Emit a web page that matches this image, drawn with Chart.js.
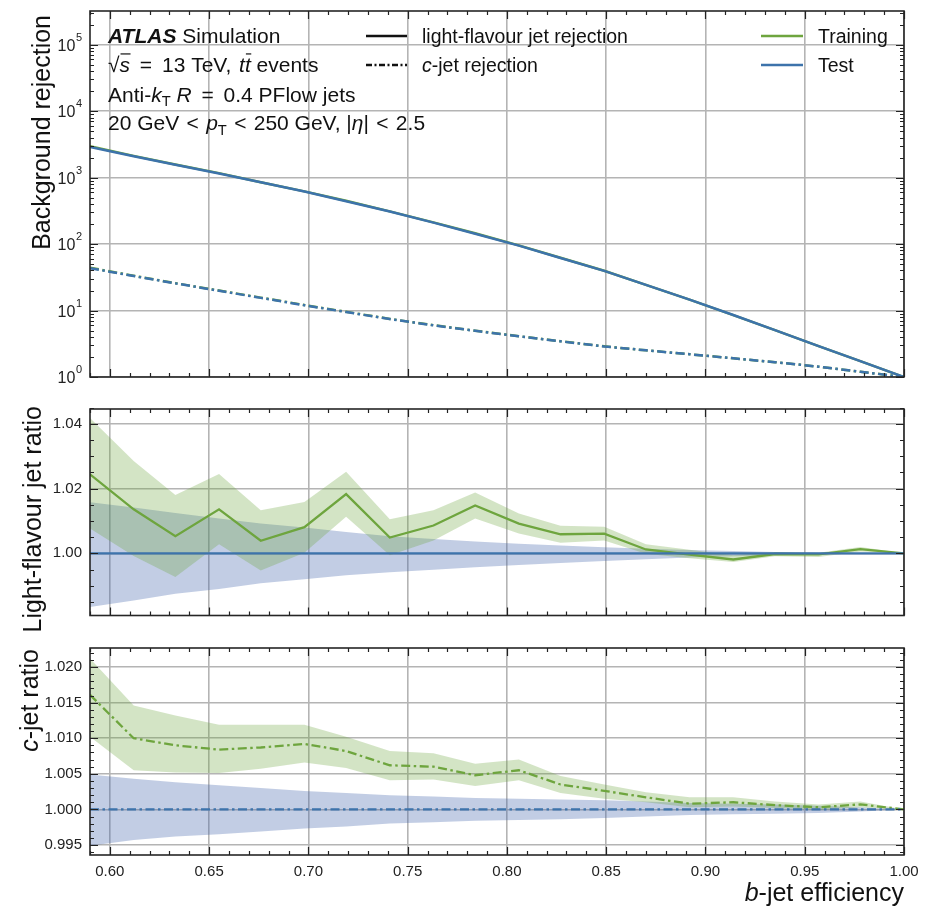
<!DOCTYPE html>
<html>
<head>
<meta charset="utf-8">
<script src="https://cdn.jsdelivr.net/npm/chart.js@4.4.0/dist/chart.umd.min.js"></script>
<style>
  html, body { margin: 0; padding: 0; background: #fff; }
  #wrap { position: relative; width: 933px; height: 908px; overflow: hidden; }
  canvas { position: absolute; left: 0; }
</style>
</head>
<body>
<div id="wrap">
  <canvas id="rejChart" width="933" height="395" style="top:0px"></canvas>
  <canvas id="lightChart" width="933" height="245" style="top:395px"></canvas>
  <canvas id="cChart" width="933" height="278" style="top:630px"></canvas>
</div>
<script>
// b-jet efficiency working points
const effX = [0.590, 0.612, 0.633, 0.655, 0.676, 0.698, 0.719, 0.741, 0.763, 0.784,
              0.806, 0.827, 0.849, 0.870, 0.892, 0.914, 0.935, 0.957, 0.978, 1.000];

// top panel: background rejection
const lightRejTrain = [2950, 2120, 1570, 1165, 850, 620, 448, 310, 212, 145,
                       95.5, 62.1, 39.6, 24.3, 14.6, 8.53, 5.07, 2.92, 1.73, 1.0];
const lightRejTest  = [2880, 2090, 1560, 1150, 847, 615, 440, 308, 210, 143,
                       94.6, 61.7, 39.4, 24.3, 14.6, 8.55, 5.07, 2.92, 1.73, 1.0];
const cRejTrain = [44.1, 33.3, 25.8, 19.97, 15.63, 12.11, 9.56, 7.48, 6.02, 4.97,
                   4.11, 3.45, 2.89, 2.52, 2.20, 1.91, 1.67, 1.43, 1.20, 1.0];
const cRejTest  = [43.4, 33.0, 25.6, 19.8, 15.5, 12.0, 9.48, 7.43, 5.98, 4.95,
                   4.09, 3.44, 2.88, 2.52, 2.20, 1.91, 1.67, 1.43, 1.20, 1.0];

// middle panel: light-flavour ratio
const lightRatioTrain = [1.0244, 1.0136, 1.0053, 1.0136, 1.0039, 1.0081, 1.0183, 1.0049, 1.0086, 1.0148,
                         1.0092, 1.0059, 1.0061, 1.0012, 0.9996, 0.9981, 0.9998, 0.9997, 1.0013, 1.0000];
const lightTrainUp  = [1.0418, 1.0285, 1.0180, 1.0245, 1.0133, 1.0159, 1.0252, 1.0105, 1.0133, 1.0188,
                       1.0123, 1.0085, 1.0082, 1.0028, 1.0011, 0.9994, 1.0004, 1.0002, 1.0020, 1.0000];
const lightTrainLow = [1.0077, 0.9992, 0.9927, 1.0028, 0.9947, 1.0002, 1.0113, 0.9994, 1.0040, 1.0108,
                       1.0061, 1.0033, 1.0040, 0.9999, 0.9985, 0.9973, 0.9991, 0.9989, 1.0006, 1.0000];
const lightRatioTest = [1, 1, 1, 1, 1, 1, 1, 1, 1, 1, 1, 1, 1, 1, 1, 1, 1, 1, 1, 1];
const lightTestUp  = [1.0158, 1.0142, 1.0125, 1.0108, 1.0092, 1.0080, 1.0066, 1.0053, 1.0044, 1.0037,
                      1.0030, 1.0024, 1.0019, 1.0014, 1.0010, 1.0007, 1.0004, 1.0002, 1.0001, 1.0000];
const lightTestLow = [0.9834, 0.9854, 0.9875, 0.9890, 0.9908, 0.9920, 0.9932, 0.9942, 0.9949, 0.9957,
                      0.9964, 0.9970, 0.9976, 0.9982, 0.9987, 0.9991, 0.9994, 0.9997, 0.9999, 1.0000];

// bottom panel: c-jet ratio
const cRatioTrain = [1.0161, 1.0100, 1.0090, 1.0084, 1.0087, 1.0092, 1.0082, 1.0062, 1.0060, 1.0048,
                     1.0055, 1.0035, 1.0026, 1.0017, 1.0008, 1.0010, 1.0006, 1.0003, 1.0007, 1.0000];
const cTrainUp  = [1.0212, 1.0146, 1.0132, 1.0119, 1.0119, 1.0119, 1.0102, 1.0082, 1.0079, 1.0064,
                   1.0070, 1.0047, 1.0035, 1.0024, 1.0017, 1.0017, 1.0011, 1.0007, 1.0011, 1.0000];
const cTrainLow = [1.0102, 1.0055, 1.0052, 1.0051, 1.0057, 1.0066, 1.0058, 1.0041, 1.0042, 1.0033,
                   1.0041, 1.0023, 1.0015, 1.0010, 1.0003, 1.0004, 1.0002, 0.9999, 1.0003, 1.0000];
const cRatioTest = [1, 1, 1, 1, 1, 1, 1, 1, 1, 1, 1, 1, 1, 1, 1, 1, 1, 1, 1, 1];
const cTestUp  = [1.0049, 1.0043, 1.0038, 1.0034, 1.0030, 1.0026, 1.0023, 1.0020, 1.0018, 1.0016,
                  1.0015, 1.0014, 1.0013, 1.0011, 1.0009, 1.0008, 1.0007, 1.0005, 1.0003, 1.0000];
const cTestLow = [0.9949, 0.9957, 0.9962, 0.9965, 0.9969, 0.9973, 0.9976, 0.9980, 0.9982, 0.9984,
                  0.9985, 0.9986, 0.9988, 0.9990, 0.9992, 0.9993, 0.9994, 0.9995, 0.9997, 1.0000];

// tick labels
const xTicks = [0.60, 0.65, 0.70, 0.75, 0.80, 0.85, 0.90, 0.95, 1.00];
const rejTicks = [1, 10, 100, 1000, 10000, 100000];
const lightTicks = [1.00, 1.02, 1.04];
const cTicks = [0.995, 1.000, 1.005, 1.010, 1.015, 1.020];

const fam = '"Liberation Sans", Arial, Helvetica, sans-serif';
const green = '#6ea53e';
const blue = '#3d73ab';
const greenBand = 'rgba(110,165,62,0.30)';
const blueBand = 'rgba(70,102,172,0.33)';
const gridColor = '#b4b4b4';
const dashDot = [9, 3.5, 2.5, 3.5];

const pts = (arr) => effX.map((x, i) => ({ x: x, y: arr[i] }));

// minor tick positions
const xMinor = [];
for (let i = 59; i <= 100; i++) xMinor.push(i / 100);
const rejMinor = [];
for (let d = 0; d <= 5; d++) for (let m = 2; m <= 9; m++) rejMinor.push(m * Math.pow(10, d));
const lightMinor = [];
for (let i = 197; i <= 209; i++) lightMinor.push(i / 200);
const cMinor = [];
for (let i = 994; i <= 1022; i++) cMinor.push(i / 1000);

// mixed-style text: segments {t, st, sub, over} or {gap}
function drawRich(ctx, x, y, segs, size, align) {
  const fontOf = (s) => (s.st || '') + ' ' + (s.sub ? size * 0.7 : size) + 'px ' + fam;
  const widthOf = (s) => {
    if (s.gap) return s.gap;
    ctx.font = fontOf(s);
    return ctx.measureText(s.t).width;
  };
  let w = 0;
  segs.forEach(s => { w += widthOf(s); });
  let cx = align === 'right' ? x - w : x;
  ctx.textAlign = 'left';
  ctx.textBaseline = 'alphabetic';
  segs.forEach(s => {
    const tw = widthOf(s);
    if (!s.gap) {
      ctx.font = fontOf(s);
      ctx.fillText(s.t, cx, y + (s.sub ? size * 0.22 : 0));
    }
    if (s.over) {
      ctx.save();
      ctx.lineWidth = 1.2;
      ctx.strokeStyle = ctx.fillStyle;
      ctx.beginPath();
      ctx.moveTo(cx + 1, y - size * 0.86);
      ctx.lineTo(cx + tw + 0.5, y - size * 0.86);
      ctx.stroke();
      ctx.restore();
    }
    cx += tw;
  });
}

function drawYTitle(ctx, bx, topY, segs) {
  ctx.save();
  ctx.fillStyle = '#111';
  ctx.translate(bx, topY);
  ctx.rotate(-Math.PI / 2);
  drawRich(ctx, 0, 0, segs, 25, 'right');
  ctx.restore();
}

// frame + inward ticks on all four sides, then extra text
function makeFrame(yMajor, yMinor, extra) {
  return {
    id: 'frame',
    afterDraw(chart) {
      const { ctx, chartArea: a, scales } = chart;
      const x = scales.x, y = scales.y;
      ctx.save();
      ctx.strokeStyle = '#222';
      ctx.lineWidth = 1.2;
      ctx.beginPath();
      const xt = (v, len) => {
        const p = Math.round(x.getPixelForValue(v)) + 0.5;
        ctx.moveTo(p, a.top); ctx.lineTo(p, a.top + len);
        ctx.moveTo(p, a.bottom); ctx.lineTo(p, a.bottom - len);
      };
      const yt = (v, len) => {
        const p = Math.round(y.getPixelForValue(v)) + 0.5;
        if (p < a.top - 0.5 || p > a.bottom + 0.5) return;
        ctx.moveTo(a.left, p); ctx.lineTo(a.left + len, p);
        ctx.moveTo(a.right, p); ctx.lineTo(a.right - len, p);
      };
      xMinor.forEach(v => xt(v, 4));
      xTicks.forEach(v => xt(v, 8));
      yMinor.forEach(v => yt(v, 4));
      yMajor.forEach(v => yt(v, 8));
      ctx.stroke();
      ctx.lineWidth = 1.6;
      ctx.strokeStyle = '#262626';
      ctx.strokeRect(a.left, a.top, a.right - a.left, a.bottom - a.top);
      ctx.restore();
      if (extra) extra(ctx, a, chart);
    }
  };
}

function baseOptions(cfg) {
  return {
    responsive: false,
    animation: false,
    devicePixelRatio: 1,
    events: [],
    layout: { padding: { top: cfg.padTop, bottom: cfg.padBottom, left: 0, right: 29 } },
    plugins: { legend: { display: false }, tooltip: { enabled: false } },
    elements: { point: { radius: 0 }, line: { tension: 0 } },
    scales: {
      x: {
        type: 'linear', min: 0.59, max: 1.0,
        afterBuildTicks: s => { s.ticks = xTicks.map(v => ({ value: v })); },
        afterFit: s => { s.height = cfg.xHeight; s.paddingLeft = 0; s.paddingRight = 0; },
        grid: { color: gridColor, lineWidth: 1.6, drawTicks: false },
        border: { display: false },
        ticks: {
          display: cfg.xLabels, padding: 8, autoSkip: false, maxRotation: 0,
          color: '#222', font: { family: fam, size: 15 },
          callback: v => v.toFixed(2)
        }
      },
      y: Object.assign({
        afterFit: s => { s.width = 90; s.paddingTop = 0; s.paddingBottom = 0; },
        grid: { color: gridColor, lineWidth: 1.6, drawTicks: false },
        border: { display: false },
      }, cfg.y)
    }
  };
}

const lineDs = (data, color, width, dash, order) => ({
  data: pts(data), borderColor: color, borderWidth: width, borderDash: dash || [],
  fill: false, pointRadius: 0, order: order
});
const bandDs = (data, color, target, order) => ({
  data: pts(data), borderWidth: 0, borderColor: 'rgba(0,0,0,0)', backgroundColor: color,
  fill: target === null ? false : { target: target }, pointRadius: 0, order: order
});

// ---- top panel ----
new Chart(document.getElementById('rejChart'), {
  type: 'line',
  data: {
    datasets: [
      lineDs(lightRejTrain, green, 2.5, [], 3),
      lineDs(lightRejTest, blue, 2.5, [], 1),
      lineDs(cRejTrain, green, 2.5, dashDot, 2),
      lineDs(cRejTest, blue, 2.5, dashDot, 0)
    ]
  },
  options: baseOptions({
    padTop: 11, padBottom: 18, xHeight: 0, xLabels: false,
    y: {
      type: 'logarithmic', min: 1, max: 320000,
      afterBuildTicks: s => { s.ticks = rejTicks.map(v => ({ value: v })); },
      ticks: { display: false }
    }
  }),
  plugins: [makeFrame(rejTicks, rejMinor, (ctx, a, chart) => {
    // power-of-ten tick labels with raised exponent
    const y = chart.scales.y;
    ctx.save();
    ctx.fillStyle = '#222';
    rejTicks.forEach(v => {
      const p = y.getPixelForValue(v);
      const e = String(Math.round(Math.log10(v)));
      ctx.textAlign = 'right';
      ctx.font = '11px ' + fam;
      ctx.textBaseline = 'alphabetic';
      const ew = ctx.measureText(e).width;
      ctx.fillText(e, 82, p - 4);
      ctx.font = '16px ' + fam;
      ctx.textBaseline = 'middle';
      ctx.fillText('10', 82 - ew - 0.5, p + 2);
    });
    ctx.restore();

    ctx.save();
    ctx.fillStyle = '#111';
    const s = 21;
    drawRich(ctx, 108, 43, [{ t: 'ATLAS', st: 'italic bold' }, { t: ' Simulation' }], s);
    drawRich(ctx, 108, 72, [{ t: '\u221a' }, { t: 's', st: 'italic', over: true }, { t: ' ' }, { gap: 4 },
      { t: '=' }, { gap: 4 }, { t: ' 13 TeV, ' }, { gap: 2 },
      { t: 't', st: 'italic' }, { t: 't', st: 'italic', over: true }, { t: ' events' }], s);
    drawRich(ctx, 108, 101.5, [{ t: 'Anti-' }, { t: 'k', st: 'italic' }, { t: 'T', sub: true }, { t: ' ' },
      { t: 'R', st: 'italic' }, { t: ' ' }, { gap: 4 }, { t: '=' }, { gap: 4 }, { t: ' 0.4 PFlow jets' }], s);
    drawRich(ctx, 108, 130, [{ t: '20 GeV ' }, { gap: 1.5 }, { t: '<' }, { gap: 1.5 }, { t: ' ' },
      { t: 'p', st: 'italic' }, { t: 'T', sub: true },
      { t: ' ' }, { gap: 1.5 }, { t: '<' }, { gap: 1.5 }, { t: ' 250 GeV, |' },
      { t: '\u03b7', st: 'italic' }, { t: '| ' }, { gap: 1.5 }, { t: '<' }, { gap: 1.5 }, { t: ' 2.5' }], s);

    // legends
    const sample = (x0, x1, yy, color, dash) => {
      ctx.save();
      ctx.strokeStyle = color; ctx.lineWidth = 2.3; ctx.setLineDash(dash);
      ctx.beginPath(); ctx.moveTo(x0, yy); ctx.lineTo(x1, yy); ctx.stroke();
      ctx.restore();
    };
    sample(366, 407, 36, '#111', []);
    sample(366, 407, 65, '#111', [6, 2.5, 2, 2.5]);
    drawRich(ctx, 422, 43, [{ t: 'light-flavour jet rejection' }], 19.5);
    drawRich(ctx, 422, 72, [{ t: 'c', st: 'italic' }, { t: '-jet rejection' }], 19.5);
    sample(761, 803, 36, green, []);
    sample(761, 803, 65, blue, []);
    drawRich(ctx, 818, 43, [{ t: 'Training' }], 19.5);
    drawRich(ctx, 818, 72, [{ t: 'Test' }], 19.5);
    ctx.restore();
    drawYTitle(ctx, 50, a.top + 4, [{ t: 'Background rejection' }]);
  })]
});

// ---- middle panel ----
new Chart(document.getElementById('lightChart'), {
  type: 'line',
  data: {
    datasets: [
      bandDs(lightTestLow, blueBand, null, 4),
      bandDs(lightTestUp, blueBand, 0, 4),
      bandDs(lightTrainLow, greenBand, null, 3),
      bandDs(lightTrainUp, greenBand, 2, 3),
      lineDs(lightRatioTrain, green, 2.3, [], 1),
      lineDs(lightRatioTest, blue, 2.3, [], 0)
    ]
  },
  options: baseOptions({
    padTop: 14, padBottom: 24.5, xHeight: 0, xLabels: false,
    y: {
      type: 'linear', min: 0.9808, max: 1.0446,
      afterBuildTicks: s => { s.ticks = lightTicks.map(v => ({ value: v })); },
      ticks: {
        padding: 8, color: '#222', font: { family: fam, size: 15 },
        callback: v => v.toFixed(2)
      }
    }
  }),
  plugins: [makeFrame(lightTicks, lightMinor, (ctx, a) => {
    drawYTitle(ctx, 41, a.top - 3, [{ t: 'Light-flavour jet ratio' }]);
  })]
});

// ---- bottom panel ----
new Chart(document.getElementById('cChart'), {
  type: 'line',
  data: {
    datasets: [
      bandDs(cTestLow, blueBand, null, 4),
      bandDs(cTestUp, blueBand, 0, 4),
      bandDs(cTrainLow, greenBand, null, 3),
      bandDs(cTrainUp, greenBand, 2, 3),
      lineDs(cRatioTrain, green, 2.3, dashDot, 1),
      lineDs(cRatioTest, blue, 2.3, dashDot, 0)
    ]
  },
  options: baseOptions({
    padTop: 18, padBottom: 0, xHeight: 53, xLabels: true,
    y: {
      type: 'linear', min: 0.99359, max: 1.02268,
      afterBuildTicks: s => { s.ticks = cTicks.map(v => ({ value: v })); },
      ticks: {
        padding: 8, color: '#222', font: { family: fam, size: 15 },
        callback: v => v.toFixed(3)
      }
    }
  }),
  plugins: [makeFrame(cTicks, cMinor, (ctx, a) => {
    drawYTitle(ctx, 38, a.top + 1, [{ t: 'c', st: 'italic' }, { t: '-jet ratio' }]);
    ctx.save();
    ctx.fillStyle = '#111';
    drawRich(ctx, a.right, 271, [{ t: 'b', st: 'italic' }, { t: '-jet efficiency' }], 25, 'right');
    ctx.restore();
  })]
});
</script>
</body>
</html>
